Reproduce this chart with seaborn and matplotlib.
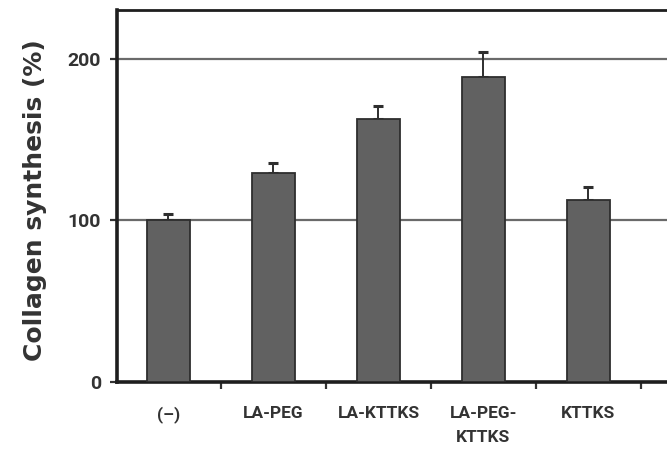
import matplotlib
matplotlib.use("Agg")
import matplotlib.pyplot as plt
import numpy as np
import pandas as pd
import seaborn as sns
from matplotlib.ticker import FixedLocator

categories = ["(\u2013)", "LA-PEG", "LA-KTTKS", "LA-PEG-\nKTTKS", "KTTKS"]
values = [100, 129.5, 163, 189, 112.5]
errors = [4, 6, 8, 15, 8]
yticks = [0, 100, 200]

sns.set_theme(style="white")
plt.rcParams['font.family'] = ['Roboto', 'DejaVu Sans']

fig = plt.figure(figsize=(6.67, 4.49), dpi=100)
ax = fig.add_axes([117/667, 67/449, 1 - 117/667, 372/449])

df = pd.DataFrame({"cat": categories, "val": values})
sns.barplot(data=df, x="cat", y="val", color="#616161", saturation=1,
            width=0.41, edgecolor="#2e2e2e", linewidth=1.3, errorbar=None,
            ax=ax, zorder=3)
x = np.arange(len(categories))
ax.errorbar(x, values, yerr=[np.zeros(len(errors)), errors], fmt="none",
            ecolor="#2e2e2e", elinewidth=1.4, capsize=3.6, capthick=2.2,
            zorder=2)

ax.set_xlim(-0.49, -0.49 + 550/105)
ax.set_ylim(0, 230.3)
ax.set_yticks(yticks)
ax.set_yticklabels([str(t) for t in yticks])
for t in [100, 200]:
    ax.axhline(t, color="#6a6a6a", linewidth=1.6, zorder=1)

ax.set_xlabel("")
ax.set_ylabel("Collagen synthesis (%)", family="DejaVu Sans", fontweight="bold",
              fontsize=18, color="#333333")
ax.yaxis.set_label_coords(-0.127, 0.489)

ax.xaxis.set_minor_locator(FixedLocator(np.arange(-0.5, 5, 1.0)))
ax.tick_params(axis="x", which="major", length=0, pad=17, labelsize=12.5,
               labelcolor="#333333")
ax.tick_params(axis="x", which="minor", bottom=True, length=5, width=1.6,
               color="#333333", direction="out")
ax.tick_params(axis="y", which="major", left=True, length=5, width=1.6,
               color="#333333", direction="out", pad=6.5, labelsize=14,
               labelcolor="#333333")
for lab in ax.get_xticklabels() + ax.get_yticklabels():
    lab.set_fontweight("bold")
for lab in ax.get_xticklabels():
    lab.set_linespacing(1.75)

for side in ["left", "bottom"]:
    ax.spines[side].set_color("#1e1e1e")
    ax.spines[side].set_linewidth(2.6)
ax.spines["top"].set_color("#1e1e1e")
ax.spines["top"].set_linewidth(2.0)
ax.spines["right"].set_visible(False)

fig.savefig("out.png", dpi=100)
